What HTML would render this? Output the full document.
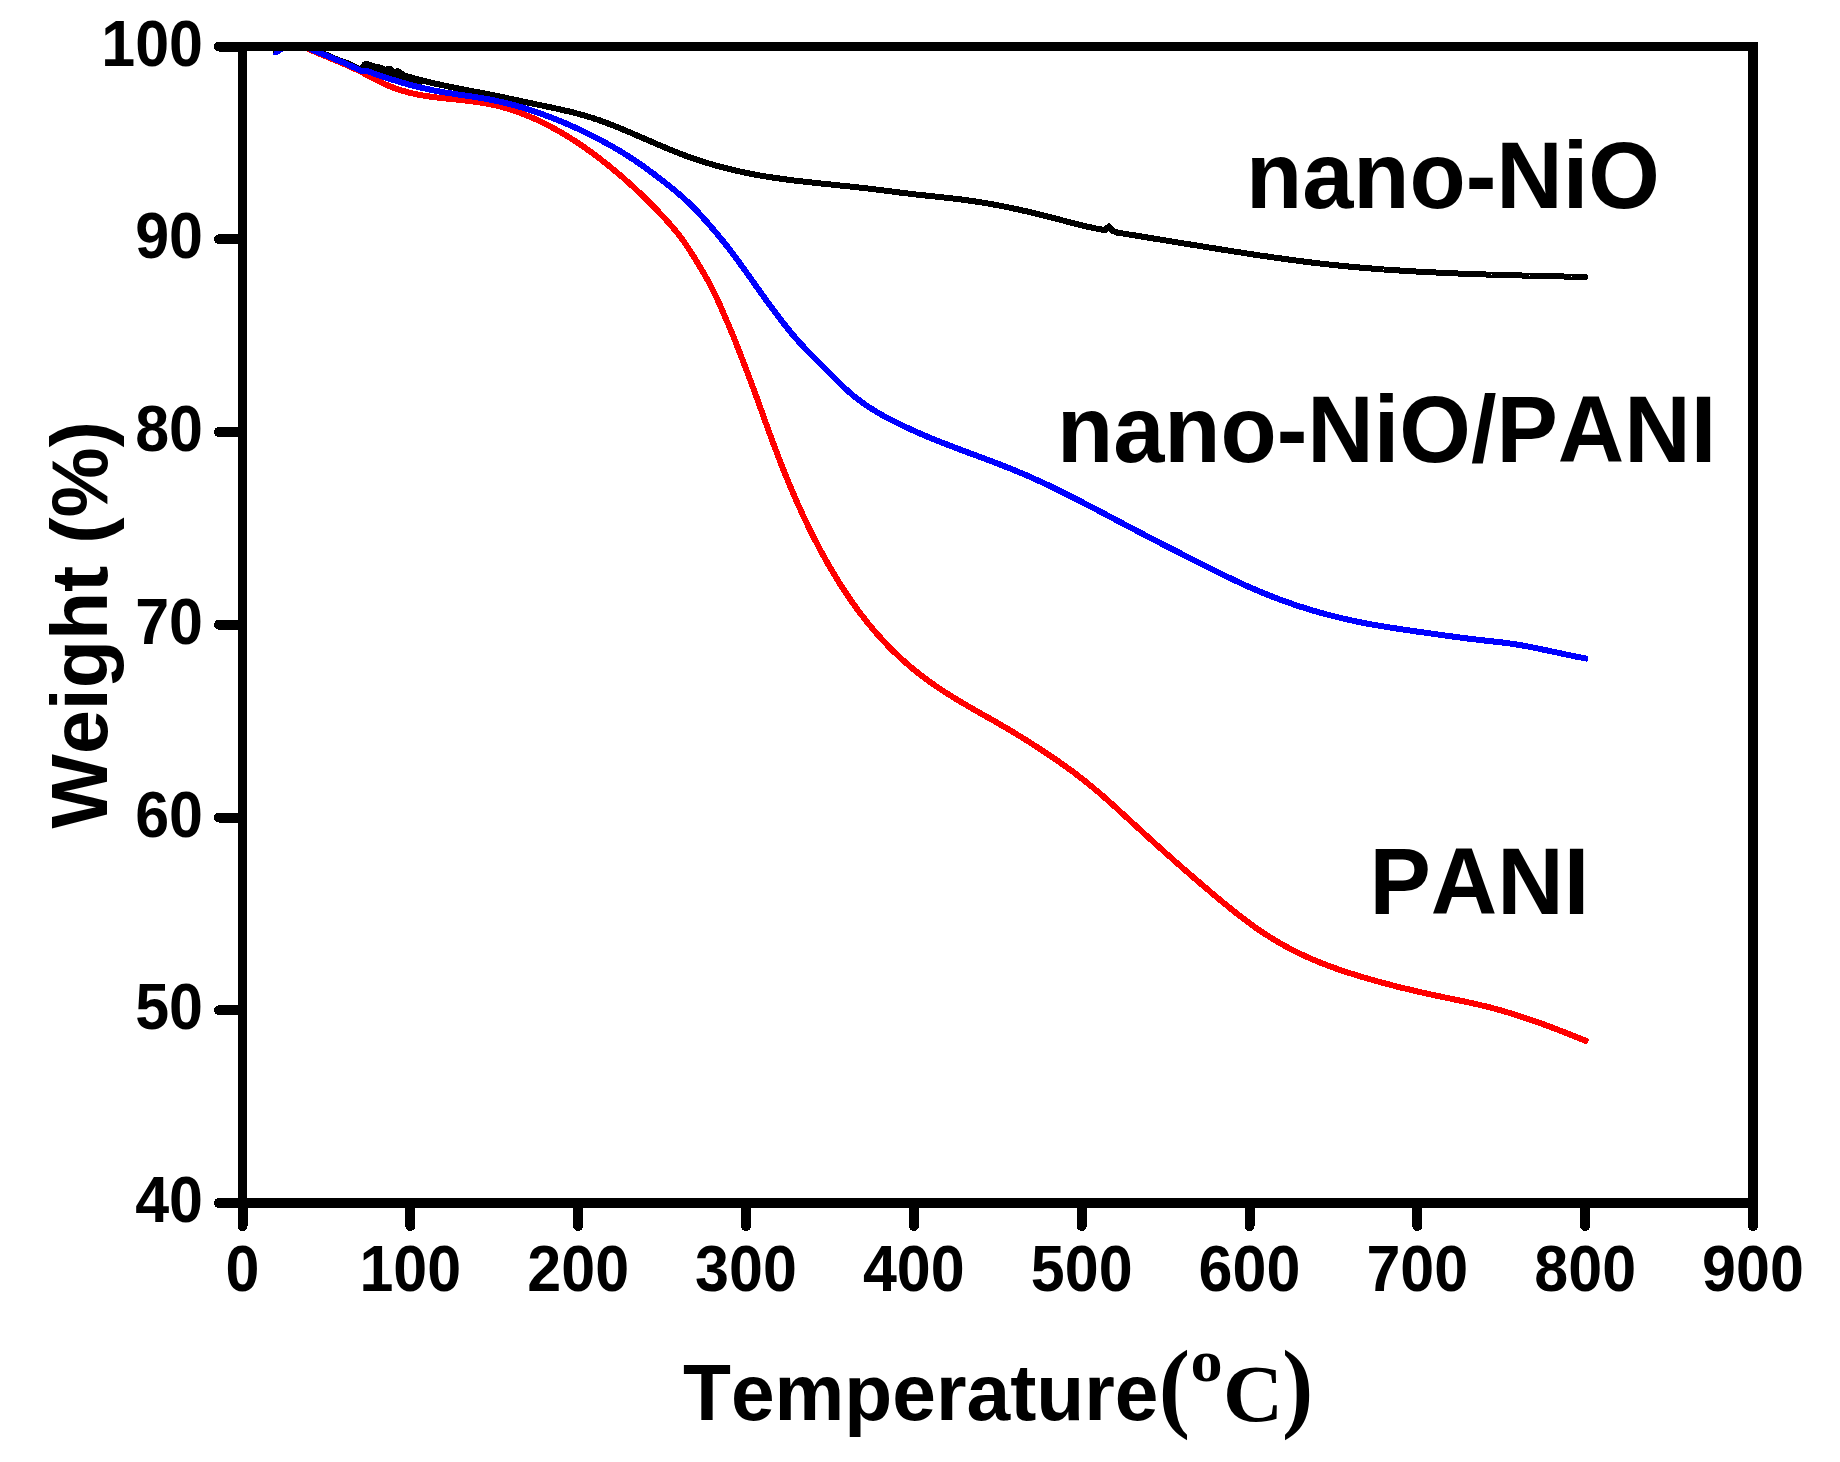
<!DOCTYPE html>
<html lang="en">
<head>
<meta charset="utf-8">
<title>TGA curves: nano-NiO, nano-NiO/PANI, PANI</title>
<style>
  html, body { margin: 0; padding: 0; background: #ffffff; }
  body { width: 1840px; height: 1462px; overflow: hidden; }
  svg { display: block; }
  svg text {
    font-family: "Liberation Sans", sans-serif;
    font-weight: bold;
    fill: #000000;
    font-kerning: none;
  }
  svg text.serif { font-family: "Liberation Serif", serif; }
</style>
</head>
<body>
<svg width="1840" height="1462" viewBox="0 0 1840 1462">
  <rect x="0" y="0" width="1840" height="1462" fill="#ffffff"/>

  <!-- data curves -->
  <defs>
    <clipPath id="plotclip"><rect x="242.5" y="46.5" width="1510.5" height="1156.5"/></clipPath>
  </defs>
  <g fill="none" stroke-width="6.0" stroke-linejoin="round" stroke-linecap="round" clip-path="url(#plotclip)" shape-rendering="crispEdges">
    <path stroke="#000000" d="M276.0,51.4 L278.0,49.1 L280.0,47.2 L282.0,45.7 L284.0,44.5 L286.0,43.6 L288.0,42.9 L290.0,42.6 L292.0,42.4 L294.0,42.5 L296.0,42.7 L298.0,43.1 L300.0,43.6 L302.0,44.2 L304.0,45.0 L306.0,45.7 L308.0,46.5 L310.0,47.4 L312.0,48.3 L314.0,49.1 L316.0,50.0 L318.0,50.9 L320.0,51.9 L322.0,52.8 L324.0,53.7 L326.0,54.6 L328.0,55.5 L330.0,56.4 L332.0,57.3 L334.0,58.2 L336.0,59.0 L338.0,59.8 L340.0,60.6 L342.0,61.4 L344.0,62.1 L346.0,62.8 L347.5,63.2 L360.0,69.4 L362.0,68.0 L364.5,64.5 L367.0,64.0 L372.5,65.9 L378.0,67.2 L381.0,67.6 L383.5,69.0 L386.0,70.3 L388.0,69.0 L390.0,68.6 L392.0,71.0 L394.0,74.0 L396.0,72.0 L397.5,71.2 L400.0,72.5 L405.0,75.9 L410.0,77.2 L412.0,77.7 L414.0,78.3 L416.0,78.8 L418.0,79.4 L420.0,79.9 L422.0,80.4 L424.0,80.9 L426.0,81.4 L428.0,81.9 L430.0,82.4 L432.0,82.9 L434.0,83.3 L436.0,83.8 L438.0,84.2 L440.0,84.7 L442.0,85.1 L444.0,85.5 L446.0,85.9 L448.0,86.4 L450.0,86.8 L452.0,87.2 L454.0,87.6 L456.0,88.0 L458.0,88.4 L460.0,88.8 L462.0,89.1 L464.0,89.5 L466.0,89.9 L468.0,90.3 L470.0,90.7 L472.0,91.1 L474.0,91.5 L476.0,91.8 L478.0,92.2 L480.0,92.6 L482.0,93.0 L484.0,93.4 L486.0,93.8 L488.0,94.2 L490.0,94.6 L492.0,95.0 L494.0,95.4 L496.0,95.8 L498.0,96.2 L500.0,96.6 L502.0,97.0 L504.0,97.4 L506.0,97.9 L508.0,98.3 L510.0,98.7 L512.0,99.1 L514.0,99.6 L516.0,100.0 L518.0,100.4 L520.0,100.8 L522.0,101.3 L524.0,101.7 L526.0,102.1 L528.0,102.6 L530.0,103.0 L532.0,103.4 L534.0,103.8 L536.0,104.3 L538.0,104.7 L540.0,105.1 L542.0,105.5 L544.0,106.0 L546.0,106.4 L548.0,106.8 L550.0,107.2 L552.0,107.7 L554.0,108.1 L556.0,108.5 L558.0,109.0 L560.0,109.4 L562.0,109.8 L564.0,110.3 L566.0,110.8 L568.0,111.2 L570.0,111.7 L572.0,112.2 L574.0,112.7 L576.0,113.2 L578.0,113.8 L580.0,114.3 L582.0,114.8 L584.0,115.4 L586.0,116.0 L588.0,116.6 L590.0,117.2 L592.0,117.8 L594.0,118.5 L596.0,119.2 L598.0,119.8 L600.0,120.5 L602.0,121.3 L604.0,122.0 L606.0,122.7 L608.0,123.5 L610.0,124.3 L612.0,125.0 L614.0,125.8 L616.0,126.6 L618.0,127.4 L620.0,128.2 L622.0,129.1 L624.0,129.9 L626.0,130.7 L628.0,131.6 L630.0,132.4 L632.0,133.3 L634.0,134.2 L636.0,135.0 L638.0,135.9 L640.0,136.8 L642.0,137.6 L644.0,138.5 L646.0,139.4 L648.0,140.2 L650.0,141.1 L652.0,142.0 L654.0,142.8 L656.0,143.7 L658.0,144.6 L660.0,145.4 L662.0,146.3 L664.0,147.1 L666.0,148.0 L668.0,148.8 L670.0,149.6 L672.0,150.4 L674.0,151.3 L676.0,152.1 L678.0,152.8 L680.0,153.6 L682.0,154.4 L684.0,155.1 L686.0,155.9 L688.0,156.6 L690.0,157.3 L692.0,158.0 L694.0,158.7 L696.0,159.4 L698.0,160.1 L700.0,160.7 L702.0,161.4 L704.0,162.0 L706.0,162.6 L708.0,163.2 L710.0,163.8 L712.0,164.4 L714.0,165.0 L716.0,165.6 L718.0,166.1 L720.0,166.7 L722.0,167.2 L724.0,167.7 L726.0,168.2 L728.0,168.7 L730.0,169.2 L732.0,169.7 L734.0,170.2 L736.0,170.6 L738.0,171.1 L740.0,171.5 L742.0,172.0 L744.0,172.4 L746.0,172.8 L748.0,173.2 L750.0,173.6 L752.0,174.0 L754.0,174.4 L756.0,174.7 L758.0,175.1 L760.0,175.5 L762.0,175.8 L764.0,176.1 L766.0,176.5 L768.0,176.8 L770.0,177.1 L772.0,177.4 L774.0,177.7 L776.0,178.0 L778.0,178.3 L780.0,178.6 L782.0,178.9 L784.0,179.2 L786.0,179.4 L788.0,179.7 L790.0,180.0 L792.0,180.2 L794.0,180.5 L796.0,180.7 L798.0,180.9 L800.0,181.2 L802.0,181.4 L804.0,181.6 L806.0,181.9 L808.0,182.1 L810.0,182.3 L812.0,182.5 L814.0,182.8 L816.0,183.0 L818.0,183.2 L820.0,183.4 L822.0,183.6 L824.0,183.8 L826.0,184.0 L828.0,184.2 L830.0,184.4 L832.0,184.6 L834.0,184.8 L836.0,185.0 L838.0,185.3 L840.0,185.5 L842.0,185.7 L844.0,185.9 L846.0,186.1 L848.0,186.3 L850.0,186.5 L852.0,186.7 L854.0,186.9 L856.0,187.2 L858.0,187.4 L860.0,187.6 L862.0,187.8 L864.0,188.1 L866.0,188.3 L868.0,188.5 L870.0,188.8 L872.0,189.0 L874.0,189.3 L876.0,189.5 L878.0,189.8 L880.0,190.0 L882.0,190.3 L884.0,190.5 L886.0,190.8 L888.0,191.0 L890.0,191.3 L892.0,191.5 L894.0,191.8 L896.0,192.1 L898.0,192.3 L900.0,192.6 L902.0,192.8 L904.0,193.0 L906.0,193.3 L908.0,193.5 L910.0,193.8 L912.0,194.0 L914.0,194.2 L916.0,194.5 L918.0,194.7 L920.0,194.9 L922.0,195.1 L924.0,195.3 L926.0,195.6 L928.0,195.8 L930.0,196.0 L932.0,196.2 L934.0,196.4 L936.0,196.6 L938.0,196.8 L940.0,197.0 L942.0,197.2 L944.0,197.5 L946.0,197.7 L948.0,197.9 L950.0,198.1 L952.0,198.4 L954.0,198.6 L956.0,198.8 L958.0,199.1 L960.0,199.3 L962.0,199.6 L964.0,199.8 L966.0,200.1 L968.0,200.4 L970.0,200.7 L972.0,200.9 L974.0,201.2 L976.0,201.6 L978.0,201.9 L980.0,202.2 L982.0,202.5 L984.0,202.8 L986.0,203.2 L988.0,203.5 L990.0,203.9 L992.0,204.2 L994.0,204.6 L996.0,205.0 L998.0,205.3 L1000.0,205.7 L1002.0,206.1 L1004.0,206.5 L1006.0,206.9 L1008.0,207.3 L1010.0,207.7 L1012.0,208.2 L1014.0,208.6 L1016.0,209.0 L1018.0,209.4 L1020.0,209.9 L1022.0,210.3 L1024.0,210.8 L1026.0,211.2 L1028.0,211.7 L1030.0,212.2 L1032.0,212.6 L1034.0,213.1 L1036.0,213.6 L1038.0,214.1 L1040.0,214.6 L1042.0,215.1 L1044.0,215.6 L1046.0,216.1 L1048.0,216.6 L1050.0,217.1 L1052.0,217.6 L1054.0,218.1 L1056.0,218.7 L1058.0,219.2 L1060.0,219.7 L1062.0,220.2 L1064.0,220.8 L1066.0,221.3 L1068.0,221.8 L1070.0,222.3 L1072.0,222.9 L1074.0,223.4 L1076.0,223.9 L1078.0,224.4 L1080.0,224.9 L1082.0,225.4 L1084.0,225.9 L1086.0,226.3 L1088.0,226.8 L1090.0,227.2 L1092.0,227.7 L1094.0,228.1 L1096.0,228.5 L1098.0,228.9 L1100.0,229.3 L1105.0,230.0 L1108.8,226.5 L1113.0,231.0 L1117.5,232.7 L1119.5,233.0 L1121.5,233.3 L1123.5,233.6 L1125.5,233.9 L1127.5,234.2 L1129.5,234.6 L1131.5,234.9 L1133.5,235.2 L1135.5,235.5 L1137.5,235.9 L1139.5,236.2 L1141.5,236.5 L1143.5,236.8 L1145.5,237.2 L1147.5,237.5 L1149.5,237.8 L1151.5,238.1 L1153.5,238.5 L1155.5,238.8 L1157.5,239.1 L1159.5,239.4 L1161.5,239.8 L1163.5,240.1 L1165.5,240.4 L1167.5,240.7 L1169.5,241.1 L1171.5,241.4 L1173.5,241.7 L1175.5,242.0 L1177.5,242.4 L1179.5,242.7 L1181.5,243.0 L1183.5,243.4 L1185.5,243.7 L1187.5,244.0 L1189.5,244.3 L1191.5,244.7 L1193.5,245.0 L1195.5,245.3 L1197.5,245.6 L1199.5,246.0 L1201.5,246.3 L1203.5,246.6 L1205.5,246.9 L1207.5,247.2 L1209.5,247.6 L1211.5,247.9 L1213.5,248.2 L1215.5,248.5 L1217.5,248.9 L1219.5,249.2 L1221.5,249.5 L1223.5,249.8 L1225.5,250.1 L1227.5,250.4 L1229.5,250.8 L1231.5,251.1 L1233.5,251.4 L1235.5,251.7 L1237.5,252.0 L1239.5,252.3 L1241.5,252.6 L1243.5,252.9 L1245.5,253.2 L1247.5,253.6 L1249.5,253.9 L1251.5,254.2 L1253.5,254.5 L1255.5,254.8 L1257.5,255.1 L1259.5,255.4 L1261.5,255.7 L1263.5,256.0 L1265.5,256.3 L1267.5,256.5 L1269.5,256.8 L1271.5,257.1 L1273.5,257.4 L1275.5,257.7 L1277.5,258.0 L1279.5,258.3 L1281.5,258.5 L1283.5,258.8 L1285.5,259.1 L1287.5,259.4 L1289.5,259.6 L1291.5,259.9 L1293.5,260.2 L1295.5,260.4 L1297.5,260.7 L1299.5,261.0 L1301.5,261.2 L1303.5,261.5 L1305.5,261.7 L1307.5,262.0 L1309.5,262.2 L1311.5,262.5 L1313.5,262.7 L1315.5,263.0 L1317.5,263.2 L1319.5,263.4 L1321.5,263.7 L1323.5,263.9 L1325.5,264.1 L1327.5,264.3 L1329.5,264.6 L1331.5,264.8 L1333.5,265.0 L1335.5,265.2 L1337.5,265.4 L1339.5,265.6 L1341.5,265.8 L1343.5,266.0 L1345.5,266.2 L1347.5,266.4 L1349.5,266.6 L1351.5,266.8 L1353.5,267.0 L1355.5,267.2 L1357.5,267.3 L1359.5,267.5 L1361.5,267.7 L1363.5,267.9 L1365.5,268.0 L1367.5,268.2 L1369.5,268.4 L1371.5,268.5 L1373.5,268.7 L1375.5,268.8 L1377.5,269.0 L1379.5,269.2 L1381.5,269.3 L1383.5,269.5 L1385.5,269.6 L1387.5,269.7 L1389.5,269.9 L1391.5,270.0 L1393.5,270.2 L1395.5,270.3 L1397.5,270.4 L1399.5,270.5 L1401.5,270.7 L1403.5,270.8 L1405.5,270.9 L1407.5,271.0 L1409.5,271.2 L1411.5,271.3 L1413.5,271.4 L1415.5,271.5 L1417.5,271.6 L1419.5,271.7 L1421.5,271.8 L1423.5,271.9 L1425.5,272.0 L1427.5,272.1 L1429.5,272.2 L1431.5,272.3 L1433.5,272.4 L1435.5,272.5 L1437.5,272.6 L1439.5,272.7 L1441.5,272.8 L1443.5,272.9 L1445.5,273.0 L1447.5,273.1 L1449.5,273.2 L1451.5,273.2 L1453.5,273.3 L1455.5,273.4 L1457.5,273.5 L1459.5,273.6 L1461.5,273.6 L1463.5,273.7 L1465.5,273.8 L1467.5,273.9 L1469.5,273.9 L1471.5,274.0 L1473.5,274.1 L1475.5,274.1 L1477.5,274.2 L1479.5,274.3 L1481.5,274.3 L1483.5,274.4 L1485.5,274.5 L1487.5,274.5 L1489.5,274.6 L1491.5,274.7 L1493.5,274.7 L1495.5,274.8 L1497.5,274.8 L1499.5,274.9 L1501.5,274.9 L1503.5,275.0 L1505.5,275.1 L1507.5,275.1 L1509.5,275.2 L1511.5,275.2 L1513.5,275.3 L1515.5,275.3 L1517.5,275.4 L1519.5,275.4 L1521.5,275.5 L1523.5,275.5 L1525.5,275.6 L1527.5,275.6 L1529.5,275.7 L1531.5,275.7 L1533.5,275.8 L1535.5,275.8 L1537.5,275.9 L1539.5,275.9 L1541.5,276.0 L1543.5,276.0 L1545.5,276.1 L1547.5,276.1 L1549.5,276.1 L1551.5,276.2 L1553.5,276.2 L1555.5,276.3 L1557.5,276.3 L1559.5,276.4 L1561.5,276.4 L1563.5,276.5 L1565.5,276.5 L1567.5,276.6 L1569.5,276.6 L1571.5,276.7 L1573.5,276.7 L1575.5,276.8 L1577.5,276.8 L1579.5,276.9 L1581.5,276.9 L1583.5,277.0 L1585.2,277.0"/>
    <path stroke="#000000" d="M363.0,70.1 L367.0,67.6 L372.5,68.8 L378.0,70.0 L383.0,71.6 L388.0,72.2 L392.0,73.8 L397.5,74.8 L402.0,76.8 L408.0,79.2 L420.0,82.2"/>
    <path stroke="#ff0000" stroke-linecap="butt" d="M276.0,51.6 L278.0,49.3 L280.0,47.4 L282.0,46.0 L284.0,44.8 L286.0,44.1 L288.0,43.6 L290.0,43.4 L292.0,43.4 L294.0,43.7 L296.0,44.1 L298.0,44.7 L300.0,45.4 L302.0,46.2 L304.0,47.0 L306.0,47.9 L308.0,48.8 L310.0,49.7 L312.0,50.5 L314.0,51.4 L316.0,52.3 L318.0,53.1 L320.0,53.9 L322.0,54.8 L324.0,55.6 L326.0,56.4 L328.0,57.3 L330.0,58.1 L332.0,58.9 L334.0,59.7 L336.0,60.6 L338.0,61.4 L340.0,62.3 L342.0,63.1 L344.0,64.0 L346.0,64.8 L348.0,65.7 L350.0,66.6 L352.0,67.5 L354.0,68.5 L356.0,69.4 L358.0,70.4 L360.0,71.4 L362.0,72.4 L364.0,73.4 L366.0,74.5 L368.0,75.6 L370.0,76.6 L372.0,77.7 L374.0,78.7 L376.0,79.8 L378.0,80.8 L380.0,81.8 L382.0,82.8 L384.0,83.7 L386.0,84.6 L388.0,85.5 L390.0,86.3 L392.0,87.1 L394.0,87.9 L396.0,88.6 L398.0,89.3 L400.0,90.0 L402.0,90.6 L404.0,91.2 L406.0,91.7 L408.0,92.3 L410.0,92.8 L412.0,93.3 L414.0,93.7 L416.0,94.2 L418.0,94.6 L420.0,95.0 L422.0,95.3 L424.0,95.7 L426.0,96.0 L428.0,96.3 L430.0,96.6 L432.0,96.9 L434.0,97.1 L436.0,97.4 L438.0,97.6 L440.0,97.9 L442.0,98.1 L444.0,98.3 L446.0,98.5 L448.0,98.7 L450.0,98.9 L452.0,99.1 L454.0,99.3 L456.0,99.5 L458.0,99.7 L460.0,100.0 L462.0,100.2 L464.0,100.4 L466.0,100.6 L468.0,100.8 L470.0,101.1 L472.0,101.3 L474.0,101.6 L476.0,101.8 L478.0,102.1 L480.0,102.4 L482.0,102.8 L484.0,103.1 L486.0,103.4 L488.0,103.8 L490.0,104.2 L492.0,104.6 L494.0,105.1 L496.0,105.5 L498.0,106.0 L500.0,106.5 L502.0,107.1 L504.0,107.6 L506.0,108.2 L508.0,108.8 L510.0,109.4 L512.0,110.1 L514.0,110.7 L516.0,111.4 L518.0,112.1 L520.0,112.8 L522.0,113.6 L524.0,114.4 L526.0,115.2 L528.0,116.0 L530.0,116.8 L532.0,117.7 L534.0,118.5 L536.0,119.4 L538.0,120.4 L540.0,121.3 L542.0,122.3 L544.0,123.2 L546.0,124.3 L548.0,125.3 L550.0,126.3 L552.0,127.4 L554.0,128.5 L556.0,129.6 L558.0,130.7 L560.0,131.8 L562.0,133.0 L564.0,134.2 L566.0,135.4 L568.0,136.6 L570.0,137.9 L572.0,139.1 L574.0,140.4 L576.0,141.7 L578.0,143.0 L580.0,144.4 L582.0,145.7 L584.0,147.1 L586.0,148.5 L588.0,149.9 L590.0,151.4 L592.0,152.8 L594.0,154.3 L596.0,155.8 L598.0,157.3 L600.0,158.8 L602.0,160.4 L604.0,161.9 L606.0,163.5 L608.0,165.1 L610.0,166.7 L612.0,168.4 L614.0,170.0 L616.0,171.7 L618.0,173.4 L620.0,175.1 L622.0,176.8 L624.0,178.6 L626.0,180.4 L628.0,182.1 L630.0,183.9 L632.0,185.8 L634.0,187.6 L636.0,189.5 L638.0,191.3 L640.0,193.2 L642.0,195.1 L644.0,197.1 L646.0,199.0 L648.0,201.0 L650.0,203.0 L652.0,205.0 L654.0,207.0 L656.0,209.1 L658.0,211.2 L660.0,213.3 L662.0,215.4 L664.0,217.5 L666.0,219.7 L668.0,221.9 L670.0,224.2 L672.0,226.5 L674.0,228.9 L676.0,231.3 L678.0,233.8 L680.0,236.4 L682.0,239.1 L684.0,241.8 L686.0,244.7 L688.0,247.7 L690.0,250.7 L692.0,253.9 L694.0,257.1 L696.0,260.3 L698.0,263.6 L700.0,267.0 L702.0,270.3 L704.0,273.7 L706.0,277.2 L708.0,280.8 L710.0,284.4 L712.0,288.3 L714.0,292.3 L716.0,296.5 L718.0,300.8 L720.0,305.2 L722.0,309.8 L724.0,314.4 L726.0,319.0 L728.0,323.7 L730.0,328.4 L732.0,333.2 L734.0,338.1 L736.0,343.1 L738.0,348.2 L740.0,353.3 L742.0,358.5 L744.0,363.7 L746.0,369.0 L748.0,374.2 L750.0,379.5 L752.0,384.8 L754.0,390.2 L756.0,395.6 L758.0,401.1 L760.0,406.7 L762.0,412.2 L764.0,417.8 L766.0,423.4 L768.0,428.9 L770.0,434.4 L772.0,439.9 L774.0,445.3 L776.0,450.6 L778.0,455.9 L780.0,461.1 L782.0,466.2 L784.0,471.2 L786.0,476.1 L788.0,481.0 L790.0,485.8 L792.0,490.5 L794.0,495.2 L796.0,499.8 L798.0,504.3 L800.0,508.7 L802.0,513.1 L804.0,517.4 L806.0,521.6 L808.0,525.8 L810.0,529.9 L812.0,533.9 L814.0,537.9 L816.0,541.8 L818.0,545.6 L820.0,549.4 L822.0,553.1 L824.0,556.8 L826.0,560.3 L828.0,563.9 L830.0,567.4 L832.0,570.8 L834.0,574.1 L836.0,577.4 L838.0,580.7 L840.0,583.9 L842.0,587.0 L844.0,590.1 L846.0,593.1 L848.0,596.1 L850.0,599.0 L852.0,601.9 L854.0,604.7 L856.0,607.5 L858.0,610.2 L860.0,612.9 L862.0,615.5 L864.0,618.1 L866.0,620.7 L868.0,623.2 L870.0,625.6 L872.0,628.0 L874.0,630.4 L876.0,632.7 L878.0,635.0 L880.0,637.2 L882.0,639.4 L884.0,641.6 L886.0,643.7 L888.0,645.8 L890.0,647.8 L892.0,649.8 L894.0,651.8 L896.0,653.7 L898.0,655.6 L900.0,657.5 L902.0,659.3 L904.0,661.1 L906.0,662.9 L908.0,664.7 L910.0,666.4 L912.0,668.0 L914.0,669.7 L916.0,671.3 L918.0,672.9 L920.0,674.5 L922.0,676.0 L924.0,677.5 L926.0,679.0 L928.0,680.5 L930.0,681.9 L932.0,683.4 L934.0,684.8 L936.0,686.1 L938.0,687.5 L940.0,688.8 L942.0,690.2 L944.0,691.5 L946.0,692.8 L948.0,694.0 L950.0,695.3 L952.0,696.5 L954.0,697.8 L956.0,699.0 L958.0,700.2 L960.0,701.4 L962.0,702.6 L964.0,703.8 L966.0,704.9 L968.0,706.1 L970.0,707.2 L972.0,708.4 L974.0,709.5 L976.0,710.7 L978.0,711.8 L980.0,713.0 L982.0,714.1 L984.0,715.2 L986.0,716.4 L988.0,717.5 L990.0,718.6 L992.0,719.8 L994.0,720.9 L996.0,722.0 L998.0,723.2 L1000.0,724.4 L1002.0,725.5 L1004.0,726.7 L1006.0,727.9 L1008.0,729.0 L1010.0,730.2 L1012.0,731.4 L1014.0,732.6 L1016.0,733.8 L1018.0,735.1 L1020.0,736.3 L1022.0,737.5 L1024.0,738.8 L1026.0,740.0 L1028.0,741.3 L1030.0,742.5 L1032.0,743.8 L1034.0,745.1 L1036.0,746.4 L1038.0,747.7 L1040.0,749.0 L1042.0,750.3 L1044.0,751.6 L1046.0,752.9 L1048.0,754.3 L1050.0,755.6 L1052.0,757.0 L1054.0,758.3 L1056.0,759.7 L1058.0,761.1 L1060.0,762.5 L1062.0,763.9 L1064.0,765.3 L1066.0,766.8 L1068.0,768.2 L1070.0,769.7 L1072.0,771.1 L1074.0,772.6 L1076.0,774.1 L1078.0,775.7 L1080.0,777.2 L1082.0,778.8 L1084.0,780.3 L1086.0,781.9 L1088.0,783.5 L1090.0,785.2 L1092.0,786.8 L1094.0,788.5 L1096.0,790.2 L1098.0,791.8 L1100.0,793.6 L1102.0,795.3 L1104.0,797.0 L1106.0,798.8 L1108.0,800.6 L1110.0,802.3 L1112.0,804.1 L1114.0,805.9 L1116.0,807.7 L1118.0,809.5 L1120.0,811.4 L1122.0,813.2 L1124.0,815.0 L1126.0,816.8 L1128.0,818.7 L1130.0,820.5 L1132.0,822.4 L1134.0,824.2 L1136.0,826.0 L1138.0,827.9 L1140.0,829.7 L1142.0,831.5 L1144.0,833.4 L1146.0,835.2 L1148.0,837.0 L1150.0,838.8 L1152.0,840.7 L1154.0,842.5 L1156.0,844.3 L1158.0,846.1 L1160.0,847.9 L1162.0,849.7 L1164.0,851.5 L1166.0,853.3 L1168.0,855.1 L1170.0,856.8 L1172.0,858.6 L1174.0,860.4 L1176.0,862.2 L1178.0,863.9 L1180.0,865.7 L1182.0,867.4 L1184.0,869.2 L1186.0,870.9 L1188.0,872.7 L1190.0,874.4 L1192.0,876.1 L1194.0,877.9 L1196.0,879.6 L1198.0,881.3 L1200.0,883.0 L1202.0,884.7 L1204.0,886.4 L1206.0,888.1 L1208.0,889.8 L1210.0,891.5 L1212.0,893.2 L1214.0,894.9 L1216.0,896.6 L1218.0,898.2 L1220.0,899.9 L1222.0,901.5 L1224.0,903.2 L1226.0,904.8 L1228.0,906.5 L1230.0,908.1 L1232.0,909.7 L1234.0,911.3 L1236.0,912.9 L1238.0,914.4 L1240.0,916.0 L1242.0,917.5 L1244.0,919.0 L1246.0,920.6 L1248.0,922.1 L1250.0,923.5 L1252.0,925.0 L1254.0,926.4 L1256.0,927.9 L1258.0,929.3 L1260.0,930.6 L1262.0,932.0 L1264.0,933.3 L1266.0,934.6 L1268.0,935.9 L1270.0,937.2 L1272.0,938.4 L1274.0,939.7 L1276.0,940.9 L1278.0,942.0 L1280.0,943.2 L1282.0,944.3 L1284.0,945.5 L1286.0,946.6 L1288.0,947.6 L1290.0,948.7 L1292.0,949.7 L1294.0,950.7 L1296.0,951.7 L1298.0,952.7 L1300.0,953.7 L1302.0,954.6 L1304.0,955.6 L1306.0,956.5 L1308.0,957.4 L1310.0,958.3 L1312.0,959.2 L1314.0,960.0 L1316.0,960.8 L1318.0,961.7 L1320.0,962.5 L1322.0,963.3 L1324.0,964.1 L1326.0,964.8 L1328.0,965.6 L1330.0,966.3 L1332.0,967.1 L1334.0,967.8 L1336.0,968.5 L1338.0,969.2 L1340.0,969.9 L1342.0,970.6 L1344.0,971.3 L1346.0,971.9 L1348.0,972.6 L1350.0,973.2 L1352.0,973.8 L1354.0,974.5 L1356.0,975.1 L1358.0,975.7 L1360.0,976.3 L1362.0,976.9 L1364.0,977.5 L1366.0,978.1 L1368.0,978.7 L1370.0,979.2 L1372.0,979.8 L1374.0,980.4 L1376.0,980.9 L1378.0,981.5 L1380.0,982.0 L1382.0,982.6 L1384.0,983.1 L1386.0,983.7 L1388.0,984.2 L1390.0,984.7 L1392.0,985.2 L1394.0,985.8 L1396.0,986.3 L1398.0,986.8 L1400.0,987.3 L1402.0,987.8 L1404.0,988.3 L1406.0,988.7 L1408.0,989.2 L1410.0,989.7 L1412.0,990.2 L1414.0,990.7 L1416.0,991.1 L1418.0,991.6 L1420.0,992.0 L1422.0,992.5 L1424.0,993.0 L1426.0,993.4 L1428.0,993.8 L1430.0,994.3 L1432.0,994.7 L1434.0,995.2 L1436.0,995.6 L1438.0,996.0 L1440.0,996.4 L1442.0,996.9 L1444.0,997.3 L1446.0,997.7 L1448.0,998.1 L1450.0,998.5 L1452.0,998.9 L1454.0,999.4 L1456.0,999.8 L1458.0,1000.2 L1460.0,1000.6 L1462.0,1001.0 L1464.0,1001.4 L1466.0,1001.9 L1468.0,1002.3 L1470.0,1002.7 L1472.0,1003.2 L1474.0,1003.6 L1476.0,1004.1 L1478.0,1004.5 L1480.0,1005.0 L1482.0,1005.5 L1484.0,1005.9 L1486.0,1006.4 L1488.0,1006.9 L1490.0,1007.4 L1492.0,1008.0 L1494.0,1008.5 L1496.0,1009.0 L1498.0,1009.6 L1500.0,1010.1 L1502.0,1010.7 L1504.0,1011.3 L1506.0,1011.9 L1508.0,1012.5 L1510.0,1013.1 L1512.0,1013.7 L1514.0,1014.3 L1516.0,1014.9 L1518.0,1015.6 L1520.0,1016.2 L1522.0,1016.9 L1524.0,1017.5 L1526.0,1018.2 L1528.0,1018.9 L1530.0,1019.6 L1532.0,1020.2 L1534.0,1020.9 L1536.0,1021.7 L1538.0,1022.4 L1540.0,1023.1 L1542.0,1023.8 L1544.0,1024.5 L1546.0,1025.3 L1548.0,1026.0 L1550.0,1026.8 L1552.0,1027.5 L1554.0,1028.3 L1556.0,1029.0 L1558.0,1029.8 L1560.0,1030.6 L1562.0,1031.3 L1564.0,1032.1 L1566.0,1032.9 L1568.0,1033.7 L1570.0,1034.5 L1572.0,1035.3 L1574.0,1036.1 L1576.0,1036.9 L1578.0,1037.7 L1580.0,1038.5 L1582.0,1039.3 L1584.0,1040.1 L1586.0,1041.0 L1588.0,1041.8"/>
    <path stroke="#0000ff" stroke-linecap="butt" d="M273.6,52.2 L275.6,52.4 L277.6,51.6 L279.6,50.1 L281.6,48.4 L283.6,46.7 L285.6,45.4 L287.6,44.3 L289.6,43.6 L291.6,43.2 L293.6,43.1 L295.6,43.3 L297.6,43.7 L299.6,44.3 L301.6,45.1 L303.6,45.9 L305.6,46.8 L307.6,47.7 L309.6,48.6 L311.6,49.5 L313.6,50.3 L315.6,51.2 L317.6,52.0 L319.6,52.9 L321.6,53.7 L323.6,54.5 L325.6,55.3 L327.6,56.1 L329.6,56.9 L331.6,57.7 L333.6,58.5 L335.6,59.4 L337.6,60.2 L339.6,61.0 L341.6,61.9 L343.6,62.7 L345.6,63.6 L347.6,64.5 L349.6,65.4 L351.6,66.3 L353.6,67.2 L355.6,68.2 L357.6,69.2 L359.6,70.2 L360.0,70.4 L363.0,71.5 L366.0,70.6 L372.5,73.0 L374.5,73.7 L376.5,74.4 L378.5,75.1 L380.5,75.8 L382.5,76.5 L384.5,77.1 L386.5,77.8 L388.5,78.4 L390.5,79.1 L392.5,79.7 L394.5,80.3 L396.5,81.0 L398.5,81.6 L400.5,82.2 L402.5,82.7 L404.5,83.3 L406.5,83.9 L408.5,84.4 L410.5,85.0 L412.5,85.5 L414.5,86.0 L416.5,86.5 L418.5,87.0 L420.5,87.5 L422.5,88.0 L424.5,88.4 L426.5,88.9 L428.5,89.3 L430.5,89.8 L432.5,90.2 L434.5,90.6 L436.5,91.0 L438.5,91.3 L440.5,91.7 L442.5,92.0 L444.5,92.4 L446.5,92.7 L448.5,93.0 L450.5,93.3 L452.5,93.6 L454.5,94.0 L456.5,94.3 L458.5,94.6 L460.5,94.8 L462.5,95.1 L464.5,95.4 L466.5,95.7 L468.5,96.0 L470.5,96.3 L472.5,96.6 L474.5,96.9 L476.5,97.3 L478.5,97.6 L480.5,97.9 L482.5,98.3 L484.5,98.6 L486.5,99.0 L488.5,99.3 L490.5,99.7 L492.5,100.1 L494.5,100.5 L496.5,100.9 L498.5,101.4 L500.5,101.8 L502.5,102.3 L504.5,102.8 L506.5,103.3 L508.5,103.8 L510.5,104.3 L512.5,104.8 L514.5,105.3 L516.5,105.9 L518.5,106.5 L520.5,107.0 L522.5,107.6 L524.5,108.2 L526.5,108.8 L528.5,109.5 L530.5,110.1 L532.5,110.8 L534.5,111.4 L536.5,112.1 L538.5,112.8 L540.5,113.5 L542.5,114.2 L544.5,115.0 L546.5,115.7 L548.5,116.4 L550.5,117.2 L552.5,118.0 L554.5,118.8 L556.5,119.6 L558.5,120.4 L560.5,121.2 L562.5,122.0 L564.5,122.9 L566.5,123.7 L568.5,124.6 L570.5,125.5 L572.5,126.4 L574.5,127.3 L576.5,128.2 L578.5,129.1 L580.5,130.1 L582.5,131.0 L584.5,132.0 L586.5,132.9 L588.5,133.9 L590.5,134.9 L592.5,135.9 L594.5,136.9 L596.5,138.0 L598.5,139.0 L600.5,140.0 L602.5,141.1 L604.5,142.2 L606.5,143.3 L608.5,144.4 L610.5,145.5 L612.5,146.6 L614.5,147.8 L616.5,149.0 L618.5,150.1 L620.5,151.3 L622.5,152.6 L624.5,153.8 L626.5,155.1 L628.5,156.3 L630.5,157.6 L632.5,158.9 L634.5,160.2 L636.5,161.6 L638.5,162.9 L640.5,164.3 L642.5,165.7 L644.5,167.2 L646.5,168.6 L648.5,170.1 L650.5,171.5 L652.5,173.0 L654.5,174.5 L656.5,176.0 L658.5,177.6 L660.5,179.1 L662.5,180.6 L664.5,182.2 L666.5,183.8 L668.5,185.4 L670.5,187.0 L672.5,188.6 L674.5,190.2 L676.5,191.9 L678.5,193.6 L680.5,195.3 L682.5,197.1 L684.5,198.9 L686.5,200.8 L688.5,202.6 L690.5,204.6 L692.5,206.5 L694.5,208.6 L696.5,210.6 L698.5,212.7 L700.5,214.9 L702.5,217.1 L704.5,219.4 L706.5,221.6 L708.5,223.9 L710.5,226.2 L712.5,228.6 L714.5,230.9 L716.5,233.2 L718.5,235.6 L720.5,238.0 L722.5,240.5 L724.5,243.0 L726.5,245.5 L728.5,248.1 L730.5,250.7 L732.5,253.4 L734.5,256.0 L736.5,258.7 L738.5,261.4 L740.5,264.2 L742.5,266.9 L744.5,269.7 L746.5,272.5 L748.5,275.3 L750.5,278.1 L752.5,280.9 L754.5,283.7 L756.5,286.6 L758.5,289.4 L760.5,292.2 L762.5,295.0 L764.5,297.8 L766.5,300.5 L768.5,303.3 L770.5,306.0 L772.5,308.7 L774.5,311.4 L776.5,314.1 L778.5,316.8 L780.5,319.4 L782.5,322.0 L784.5,324.5 L786.5,327.0 L788.5,329.5 L790.5,332.0 L792.5,334.4 L794.5,336.7 L796.5,339.0 L798.5,341.3 L800.5,343.5 L802.5,345.6 L804.5,347.8 L806.5,349.9 L808.5,351.9 L810.5,354.0 L812.5,356.0 L814.5,358.0 L816.5,360.0 L818.5,362.0 L820.5,364.0 L822.5,366.0 L824.5,368.0 L826.5,370.1 L828.5,372.1 L830.5,374.1 L832.5,376.2 L834.5,378.2 L836.5,380.2 L838.5,382.1 L840.5,384.1 L842.5,386.0 L844.5,387.9 L846.5,389.7 L848.5,391.5 L850.5,393.2 L852.5,394.9 L854.5,396.6 L856.5,398.1 L858.5,399.7 L860.5,401.2 L862.5,402.6 L864.5,404.1 L866.5,405.5 L868.5,406.8 L870.5,408.1 L872.5,409.4 L874.5,410.6 L876.5,411.8 L878.5,413.0 L880.5,414.2 L882.5,415.3 L884.5,416.4 L886.5,417.5 L888.5,418.5 L890.5,419.6 L892.5,420.6 L894.5,421.6 L896.5,422.6 L898.5,423.6 L900.5,424.6 L902.5,425.5 L904.5,426.5 L906.5,427.4 L908.5,428.3 L910.5,429.3 L912.5,430.2 L914.5,431.1 L916.5,432.0 L918.5,432.8 L920.5,433.7 L922.5,434.6 L924.5,435.4 L926.5,436.3 L928.5,437.1 L930.5,437.9 L932.5,438.8 L934.5,439.6 L936.5,440.4 L938.5,441.2 L940.5,442.0 L942.5,442.8 L944.5,443.6 L946.5,444.3 L948.5,445.1 L950.5,445.9 L952.5,446.6 L954.5,447.4 L956.5,448.2 L958.5,448.9 L960.5,449.7 L962.5,450.4 L964.5,451.2 L966.5,451.9 L968.5,452.7 L970.5,453.4 L972.5,454.2 L974.5,454.9 L976.5,455.6 L978.5,456.4 L980.5,457.1 L982.5,457.9 L984.5,458.6 L986.5,459.4 L988.5,460.1 L990.5,460.9 L992.5,461.6 L994.5,462.4 L996.5,463.2 L998.5,463.9 L1000.5,464.7 L1002.5,465.5 L1004.5,466.3 L1006.5,467.1 L1008.5,467.8 L1010.5,468.6 L1012.5,469.5 L1014.5,470.3 L1016.5,471.1 L1018.5,471.9 L1020.5,472.8 L1022.5,473.6 L1024.5,474.5 L1026.5,475.3 L1028.5,476.2 L1030.5,477.1 L1032.5,478.0 L1034.5,478.9 L1036.5,479.8 L1038.5,480.7 L1040.5,481.6 L1042.5,482.5 L1044.5,483.5 L1046.5,484.4 L1048.5,485.3 L1050.5,486.3 L1052.5,487.3 L1054.5,488.2 L1056.5,489.2 L1058.5,490.2 L1060.5,491.2 L1062.5,492.2 L1064.5,493.2 L1066.5,494.2 L1068.5,495.2 L1070.5,496.2 L1072.5,497.2 L1074.5,498.2 L1076.5,499.2 L1078.5,500.3 L1080.5,501.3 L1082.5,502.3 L1084.5,503.4 L1086.5,504.4 L1088.5,505.4 L1090.5,506.5 L1092.5,507.5 L1094.5,508.6 L1096.5,509.6 L1098.5,510.7 L1100.5,511.7 L1102.5,512.8 L1104.5,513.8 L1106.5,514.9 L1108.5,515.9 L1110.5,517.0 L1112.5,518.0 L1114.5,519.1 L1116.5,520.2 L1118.5,521.2 L1120.5,522.3 L1122.5,523.3 L1124.5,524.4 L1126.5,525.4 L1128.5,526.5 L1130.5,527.5 L1132.5,528.6 L1134.5,529.6 L1136.5,530.7 L1138.5,531.7 L1140.5,532.8 L1142.5,533.8 L1144.5,534.9 L1146.5,535.9 L1148.5,536.9 L1150.5,538.0 L1152.5,539.0 L1154.5,540.0 L1156.5,541.1 L1158.5,542.1 L1160.5,543.1 L1162.5,544.2 L1164.5,545.2 L1166.5,546.2 L1168.5,547.2 L1170.5,548.2 L1172.5,549.3 L1174.5,550.3 L1176.5,551.3 L1178.5,552.3 L1180.5,553.3 L1182.5,554.4 L1184.5,555.4 L1186.5,556.4 L1188.5,557.4 L1190.5,558.4 L1192.5,559.4 L1194.5,560.5 L1196.5,561.5 L1198.5,562.5 L1200.5,563.5 L1202.5,564.5 L1204.5,565.5 L1206.5,566.5 L1208.5,567.5 L1210.5,568.5 L1212.5,569.5 L1214.5,570.5 L1216.5,571.5 L1218.5,572.5 L1220.5,573.5 L1222.5,574.5 L1224.5,575.4 L1226.5,576.4 L1228.5,577.4 L1230.5,578.3 L1232.5,579.3 L1234.5,580.2 L1236.5,581.2 L1238.5,582.1 L1240.5,583.0 L1242.5,584.0 L1244.5,584.9 L1246.5,585.8 L1248.5,586.7 L1250.5,587.6 L1252.5,588.4 L1254.5,589.3 L1256.5,590.2 L1258.5,591.0 L1260.5,591.9 L1262.5,592.7 L1264.5,593.5 L1266.5,594.3 L1268.5,595.1 L1270.5,595.9 L1272.5,596.7 L1274.5,597.5 L1276.5,598.2 L1278.5,599.0 L1280.5,599.7 L1282.5,600.5 L1284.5,601.2 L1286.5,601.9 L1288.5,602.6 L1290.5,603.3 L1292.5,604.0 L1294.5,604.7 L1296.5,605.4 L1298.5,606.0 L1300.5,606.7 L1302.5,607.3 L1304.5,608.0 L1306.5,608.6 L1308.5,609.2 L1310.5,609.8 L1312.5,610.4 L1314.5,611.0 L1316.5,611.6 L1318.5,612.2 L1320.5,612.7 L1322.5,613.3 L1324.5,613.8 L1326.5,614.4 L1328.5,614.9 L1330.5,615.4 L1332.5,615.9 L1334.5,616.4 L1336.5,616.9 L1338.5,617.4 L1340.5,617.9 L1342.5,618.4 L1344.5,618.9 L1346.5,619.3 L1348.5,619.8 L1350.5,620.2 L1352.5,620.6 L1354.5,621.1 L1356.5,621.5 L1358.5,621.9 L1360.5,622.3 L1362.5,622.7 L1364.5,623.1 L1366.5,623.5 L1368.5,623.8 L1370.5,624.2 L1372.5,624.6 L1374.5,624.9 L1376.5,625.3 L1378.5,625.6 L1380.5,626.0 L1382.5,626.3 L1384.5,626.6 L1386.5,627.0 L1388.5,627.3 L1390.5,627.6 L1392.5,627.9 L1394.5,628.2 L1396.5,628.5 L1398.5,628.8 L1400.5,629.1 L1402.5,629.4 L1404.5,629.7 L1406.5,630.0 L1408.5,630.3 L1410.5,630.6 L1412.5,630.9 L1414.5,631.2 L1416.5,631.5 L1418.5,631.7 L1420.5,632.0 L1422.5,632.3 L1424.5,632.6 L1426.5,632.9 L1428.5,633.2 L1430.5,633.4 L1432.5,633.7 L1434.5,634.0 L1436.5,634.3 L1438.5,634.6 L1440.5,634.8 L1442.5,635.1 L1444.5,635.4 L1446.5,635.7 L1448.5,636.0 L1450.5,636.2 L1452.5,636.5 L1454.5,636.8 L1456.5,637.0 L1458.5,637.3 L1460.5,637.6 L1462.5,637.8 L1464.5,638.1 L1466.5,638.4 L1468.5,638.6 L1470.5,638.9 L1472.5,639.1 L1474.5,639.3 L1476.5,639.6 L1478.5,639.8 L1480.5,640.0 L1482.5,640.3 L1484.5,640.5 L1486.5,640.7 L1488.5,640.9 L1490.5,641.1 L1492.5,641.4 L1494.5,641.6 L1496.5,641.8 L1498.5,642.1 L1500.5,642.3 L1502.5,642.5 L1504.5,642.8 L1506.5,643.0 L1508.5,643.3 L1510.5,643.6 L1512.5,643.9 L1514.5,644.2 L1516.5,644.5 L1518.5,644.9 L1520.5,645.2 L1522.5,645.5 L1524.5,645.9 L1526.5,646.3 L1528.5,646.6 L1530.5,647.0 L1532.5,647.4 L1534.5,647.8 L1536.5,648.2 L1538.5,648.6 L1540.5,649.0 L1542.5,649.5 L1544.5,649.9 L1546.5,650.3 L1548.5,650.7 L1550.5,651.2 L1552.5,651.6 L1554.5,652.0 L1556.5,652.4 L1558.5,652.9 L1560.5,653.3 L1562.5,653.7 L1564.5,654.2 L1566.5,654.6 L1568.5,655.0 L1570.5,655.4 L1572.5,655.8 L1574.5,656.2 L1576.5,656.7 L1578.5,657.1 L1580.5,657.4 L1582.5,657.8 L1584.5,658.2 L1586.5,658.6 L1588.0,658.9"/>
  </g>

  <!-- axes frame -->
  <g stroke="#000000" stroke-width="9.5" fill="none" shape-rendering="crispEdges">
    <rect x="242.5" y="46.5" width="1510.5" height="1156.5"/>
  </g>
  <!-- ticks -->
  <g stroke="#000000" stroke-width="10.0" stroke-linecap="round" fill="none" shape-rendering="crispEdges">
    <line x1="242.50" y1="1203.00" x2="242.50" y2="1226.00"/>
    <line x1="410.33" y1="1203.00" x2="410.33" y2="1226.00"/>
    <line x1="578.17" y1="1203.00" x2="578.17" y2="1226.00"/>
    <line x1="746.00" y1="1203.00" x2="746.00" y2="1226.00"/>
    <line x1="913.83" y1="1203.00" x2="913.83" y2="1226.00"/>
    <line x1="1081.67" y1="1203.00" x2="1081.67" y2="1226.00"/>
    <line x1="1249.50" y1="1203.00" x2="1249.50" y2="1226.00"/>
    <line x1="1417.33" y1="1203.00" x2="1417.33" y2="1226.00"/>
    <line x1="1585.17" y1="1203.00" x2="1585.17" y2="1226.00"/>
    <line x1="1753.00" y1="1203.00" x2="1753.00" y2="1226.00"/>
    <line x1="242.50" y1="1203.00" x2="219.00" y2="1203.00"/>
    <line x1="242.50" y1="1010.25" x2="219.00" y2="1010.25"/>
    <line x1="242.50" y1="817.50" x2="219.00" y2="817.50"/>
    <line x1="242.50" y1="624.75" x2="219.00" y2="624.75"/>
    <line x1="242.50" y1="432.00" x2="219.00" y2="432.00"/>
    <line x1="242.50" y1="239.25" x2="219.00" y2="239.25"/>
    <line x1="242.50" y1="46.50" x2="219.00" y2="46.50"/>
  </g>

  <!-- tick labels -->
  <g>
    <text transform="translate(242.50 1291.00) scale(1 1.055)" font-size="61" text-anchor="middle">0</text>
    <text transform="translate(410.33 1291.00) scale(1 1.055)" font-size="61" text-anchor="middle">100</text>
    <text transform="translate(578.17 1291.00) scale(1 1.055)" font-size="61" text-anchor="middle">200</text>
    <text transform="translate(746.00 1291.00) scale(1 1.055)" font-size="61" text-anchor="middle">300</text>
    <text transform="translate(913.83 1291.00) scale(1 1.055)" font-size="61" text-anchor="middle">400</text>
    <text transform="translate(1081.67 1291.00) scale(1 1.055)" font-size="61" text-anchor="middle">500</text>
    <text transform="translate(1249.50 1291.00) scale(1 1.055)" font-size="61" text-anchor="middle">600</text>
    <text transform="translate(1417.33 1291.00) scale(1 1.055)" font-size="61" text-anchor="middle">700</text>
    <text transform="translate(1585.17 1291.00) scale(1 1.055)" font-size="61" text-anchor="middle">800</text>
    <text transform="translate(1753.00 1291.00) scale(1 1.055)" font-size="61" text-anchor="middle">900</text>
    <text transform="translate(203.00 1222.20) scale(1 1.055)" font-size="61" text-anchor="end">40</text>
    <text transform="translate(203.00 1029.45) scale(1 1.055)" font-size="61" text-anchor="end">50</text>
    <text transform="translate(203.00 836.70) scale(1 1.055)" font-size="61" text-anchor="end">60</text>
    <text transform="translate(203.00 643.95) scale(1 1.055)" font-size="61" text-anchor="end">70</text>
    <text transform="translate(203.00 451.20) scale(1 1.055)" font-size="61" text-anchor="end">80</text>
    <text transform="translate(203.00 258.45) scale(1 1.055)" font-size="61" text-anchor="end">90</text>
    <text transform="translate(203.00 65.70) scale(1 1.055)" font-size="61" text-anchor="end">100</text>
  </g>

  <!-- curve labels -->
  <g>
    <text transform="translate(1246.00 208.30) scale(1 1.02)" font-size="92">nano-NiO</text>
    <text transform="translate(1057.00 462.40) scale(1 1.03)" font-size="92">nano-NiO/PANI</text>
    <text transform="translate(1369.50 914.00) scale(1 1.03)" font-size="92">PANI</text>
  </g>

  <!-- axis titles -->
  <text transform="translate(683 1420) scale(1 1.02)" font-size="78.5">Temperature</text>
  <text class="serif" font-size="100" transform="translate(1158.8 1418.5) scale(0.94 1)">(</text>
  <text class="serif" font-size="60" transform="translate(1190.4 1380.6) scale(1.07 1)">o</text>
  <text class="serif" font-size="80.5" transform="translate(1222.9 1420.5) scale(1.035 1)">C</text>
  <text class="serif" font-size="100" transform="translate(1282.1 1418.5) scale(0.94 1)">)</text>
  <text transform="translate(107 828.5) rotate(-90) scale(1.005 1.02)" font-size="78.5">Weight (%)</text>
</svg>
</body>
</html>
